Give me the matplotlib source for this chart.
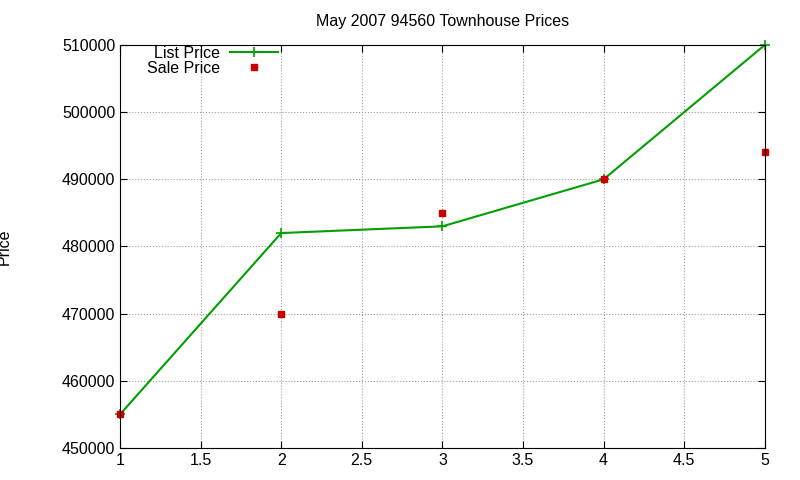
import matplotlib
matplotlib.use("Agg")
import matplotlib.pyplot as plt

# data
units = [1, 2, 3, 4, 5]
list_price = [455000, 482000, 483000, 490000, 510000]
sale_price = [455000, 470000, 485000, 490000, 494000]

plt.rcParams["font.family"] = ["Liberation Sans", "DejaVu Sans"]

fig = plt.figure(figsize=(8, 4.8), dpi=100)
ax = fig.add_axes([0.15, 0.0667, 0.806, 0.8396])

ax.plot(units, list_price, color="#00a000", lw=1.5, marker="+", ms=7,
        mew=1.2, label="List Price", clip_on=False)
ax.plot(units, sale_price, ls="none", color="#cc0000", marker="s", ms=5,
        label="Sale Price", clip_on=False)

ax.set_xlim(1, 5)
ax.set_ylim(450000, 510000)
ax.set_xticks([1, 1.5, 2, 2.5, 3, 3.5, 4, 4.5, 5])
ax.set_xticklabels(["1", "1.5", "2", "2.5", "3", "3.5", "4", "4.5", "5"])
ax.set_yticks(range(450000, 510001, 10000))
ax.tick_params(direction="in", top=True, right=True, labelsize=11.5, length=5)
ax.grid(True, color="#a0a0a0", ls=":", lw=0.8)
for s in ax.spines.values():
    s.set_linewidth(0.8)

ax.set_title("May 2007 94560 Townhouse Prices", fontsize=11.5, pad=14)
ax.set_ylabel("Price", fontsize=11.5, labelpad=36)

ax.legend(loc="upper left", bbox_to_anchor=(0.025, 1.025), frameon=False,
          markerfirst=False, fontsize=11.5, handlelength=3.0,
          handletextpad=0.6, labelspacing=0.0, borderaxespad=0.3)

fig.savefig("out.png", dpi=100)
